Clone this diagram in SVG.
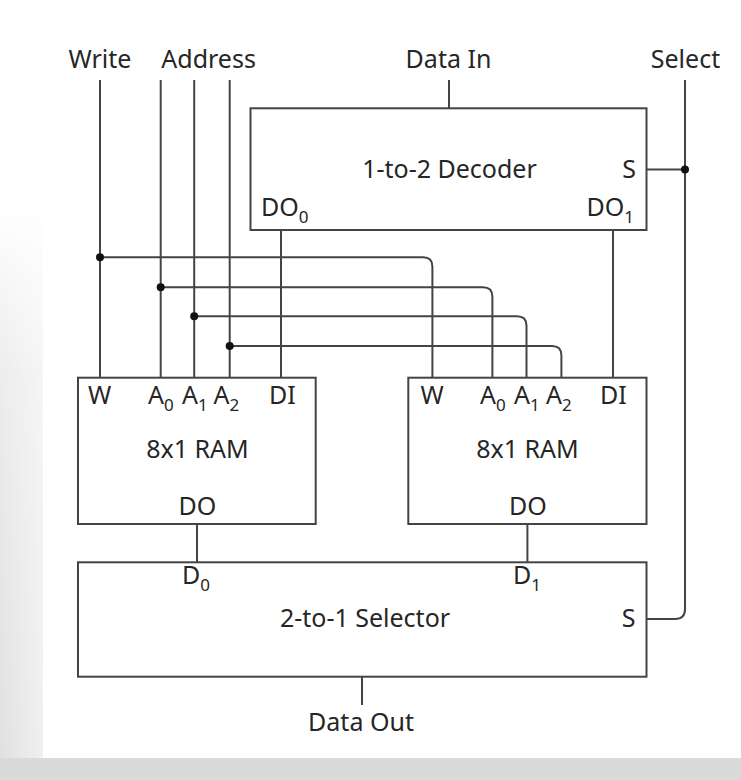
<svg xmlns="http://www.w3.org/2000/svg" width="741" height="780" viewBox="0 0 741 780">
<defs>
<linearGradient id="lg" x1="0" y1="0" x2="0" y2="1">
<stop offset="0" stop-color="#ffffff"/><stop offset="0.3" stop-color="#ececec"/><stop offset="1" stop-color="#e0e0e0"/>
</linearGradient>
<linearGradient id="lh" x1="0" y1="0" x2="1" y2="0">
<stop offset="0" stop-color="#ffffff" stop-opacity="0"/><stop offset="1" stop-color="#ffffff" stop-opacity="0.5"/>
</linearGradient>
<style>
.t{font-family:"Noto Sans","Liberation Sans",sans-serif;font-size:25px;fill:#262626}
.m{text-anchor:middle}
.e{text-anchor:end}
.sub{font-size:17px}
.box{fill:#fff;stroke:#444;stroke-width:2}
.w{fill:none;stroke:#444;stroke-width:2}
.dot{fill:#111}
</style>
</defs>
<rect width="741" height="780" fill="#fff"/>
<rect x="0" y="205" width="43" height="575" fill="url(#lg)"/>
<rect x="0" y="205" width="43" height="575" fill="url(#lh)"/>
<rect x="0" y="758" width="741" height="22" fill="#dadada"/>

<g id="labels">
<text class="t m" x="100" y="68">Write</text>
<text class="t m" x="208.6" y="68">Address</text>
<text class="t m" x="448.5" y="68">Data In</text>
<text class="t m" x="685.5" y="68">Select</text>
<text class="t m" x="361" y="731">Data Out</text>
</g>

<g id="connectors">
<line class="w" x1="100" y1="80" x2="100" y2="378"/>
<line class="w" x1="160.7" y1="80" x2="160.7" y2="378"/>
<line class="w" x1="194.2" y1="80" x2="194.2" y2="378"/>
<line class="w" x1="229.7" y1="80" x2="229.7" y2="378"/>
<line class="w" x1="449" y1="80" x2="449" y2="108"/>
<path class="w" d="M685 80 V609 Q685 619 675 619 H646.5"/>
<line class="w" x1="646.5" y1="169.5" x2="685" y2="169.5"/>
<line class="w" x1="281" y1="230" x2="281" y2="378"/>
<line class="w" x1="613" y1="230" x2="613" y2="378"/>
<path class="w" d="M100 257.3 H423 Q432.4 257.3 432.4 266.7 V378"/>
<path class="w" d="M160.7 287.3 H483 Q492.4 287.3 492.4 296.7 V378"/>
<path class="w" d="M194.2 316.3 H517 Q526.5 316.3 526.5 325.7 V378"/>
<path class="w" d="M229.7 346 H552 Q561.4 346 561.4 355.4 V378"/>
<line class="w" x1="197" y1="524" x2="197" y2="562"/>
<line class="w" x1="527.4" y1="524" x2="527.4" y2="562"/>
<line class="w" x1="362" y1="677" x2="362" y2="705"/>
<circle class="dot" cx="685" cy="169.5" r="4"/>
<circle class="dot" cx="100" cy="257.3" r="4"/>
<circle class="dot" cx="160.7" cy="287.3" r="4"/>
<circle class="dot" cx="194.2" cy="316.3" r="4"/>
<circle class="dot" cx="229.7" cy="346" r="4"/>
</g>

<g id="decoder">
<rect class="box" x="250.5" y="108.3" width="396" height="121.7"/>
<text class="t m" x="449.5" y="178">1-to-2 Decoder</text>
<text class="t e" x="636" y="178">S</text>
<text class="t" x="261" y="216">DO<tspan class="sub" dy="7">0</tspan></text>
<text class="t e" x="634" y="216">DO<tspan class="sub" dy="7">1</tspan></text>
</g>

<g id="ram1">
<rect class="box" x="78" y="377.7" width="237.7" height="146.3"/>
<text class="t" x="88" y="404">W</text>
<text class="t" x="148" y="404">A<tspan class="sub" dy="7">0</tspan></text>
<text class="t" x="182" y="404">A<tspan class="sub" dy="7">1</tspan></text>
<text class="t" x="213.6" y="404">A<tspan class="sub" dy="7">2</tspan></text>
<text class="t" x="269" y="404">DI</text>
<text class="t m" x="197.5" y="458">8x1 RAM</text>
<text class="t m" x="197.5" y="515">DO</text>
</g>

<g id="ram2">
<rect class="box" x="408.3" y="377.7" width="238.2" height="146.3"/>
<text class="t" x="420.6" y="404">W</text>
<text class="t" x="480" y="404">A<tspan class="sub" dy="7">0</tspan></text>
<text class="t" x="514" y="404">A<tspan class="sub" dy="7">1</tspan></text>
<text class="t" x="546" y="404">A<tspan class="sub" dy="7">2</tspan></text>
<text class="t" x="600" y="404">DI</text>
<text class="t m" x="527.5" y="458">8x1 RAM</text>
<text class="t m" x="528" y="515">DO</text>
</g>

<g id="selector">
<rect class="box" x="78" y="562.3" width="568.5" height="114.4"/>
<text class="t" x="182" y="584">D<tspan class="sub" dy="7">0</tspan></text>
<text class="t" x="513" y="584">D<tspan class="sub" dy="7">1</tspan></text>
<text class="t m" x="365" y="627">2-to-1 Selector</text>
<text class="t e" x="635.6" y="627">S</text>
</g>
</svg>
